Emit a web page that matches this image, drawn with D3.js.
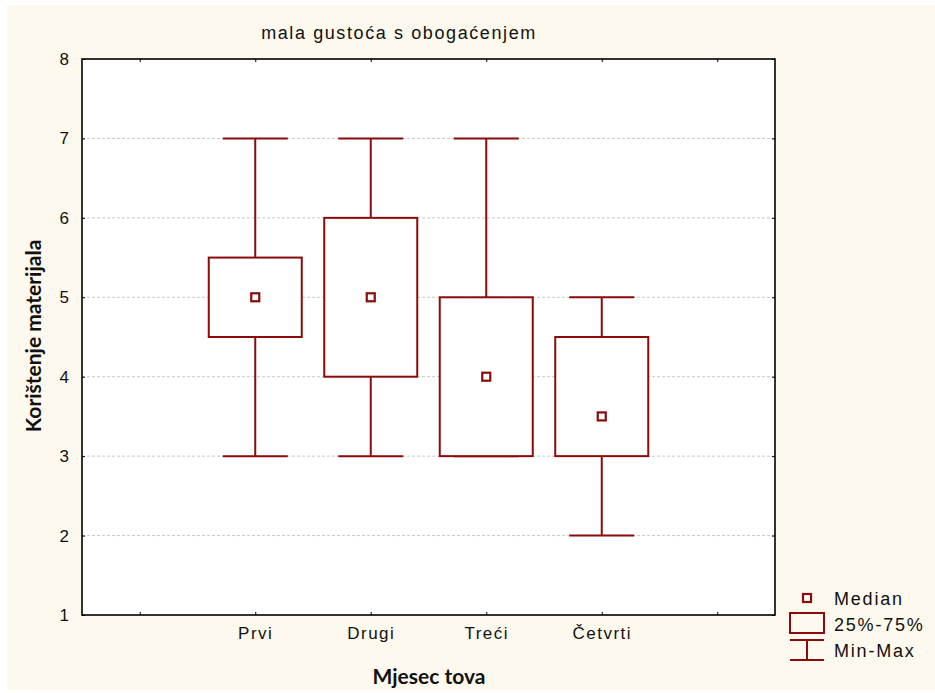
<!DOCTYPE html>
<html>
<head>
<meta charset="utf-8">
<script src="https://cdn.jsdelivr.net/npm/d3@7"></script>
<style>
  body { margin: 0; background: #fff; }
  svg { display: block; }
</style>
</head>
<body>
<div id="chart"></div>
<script>
// podaci
const categories = ["Prvi", "Drugi", "Treći", "Četvrti"];
const minVals = [3, 3, 3, 2];
const q1Vals = [4.5, 4, 3, 3];
const medianVals = [5, 5, 4, 3.5];
const q3Vals = [5.5, 6, 5, 4.5];
const maxVals = [7, 7, 7, 5];
const yTicks = [1, 2, 3, 4, 5, 6, 7, 8];

const W = 935, H = 693;
const margin = { top: 59, right: 160, bottom: 78, left: 82 };
const width = W - margin.left - margin.right;   // 693
const height = H - margin.top - margin.bottom;  // 556
const red = "#8b0a0a";

const svg = d3.select("#chart").append("svg")
  .attr("width", W).attr("height", H);

// pozadina
svg.append("rect")
  .attr("x", 7).attr("y", 5)
  .attr("width", W - 7).attr("height", H - 8)
  .attr("fill", "#fef9ee");

const g = svg.append("g")
  .attr("transform", `translate(${margin.left},${margin.top})`);

g.append("rect")
  .attr("width", width).attr("height", height)
  .attr("fill", "#fff");

// prazna mjesta lijevo i desno, kao u originalu
const slots = ["_a", ...categories, "_b"];
const x = d3.scalePoint().domain(slots).range([0, width]).padding(0.5);
const y = d3.scaleLinear().domain([1, 8]).range([height, 0]);

// mreža
g.selectAll(".grid")
  .data(yTicks.filter(t => t > 1 && t < 8))
  .enter().append("line")
  .attr("x1", 0).attr("x2", width)
  .attr("y1", d => y(d)).attr("y2", d => y(d))
  .attr("stroke", "#c8c8c8")
  .attr("stroke-dasharray", "3,2")
  .attr("stroke-width", 1);

// osi
const fontAx = "'Liberation Sans', Arial, sans-serif";

const yAxis = g.append("g")
  .call(d3.axisLeft(y).tickValues(yTicks).tickSize(-3).tickPadding(13).tickFormat(d3.format("d")));
yAxis.select(".domain").remove();
yAxis.selectAll("line").attr("stroke", "#000");
yAxis.selectAll("text").style("font-family", fontAx).style("font-size", "17px").attr("fill", "#111");

const yAxisR = g.append("g").attr("transform", `translate(${width},0)`)
  .call(d3.axisRight(y).tickValues(yTicks).tickSize(-3).tickFormat(""));
yAxisR.select(".domain").remove();

const xAxis = g.append("g").attr("transform", `translate(0,${height})`)
  .call(d3.axisBottom(x).tickSize(-3).tickPadding(12).tickFormat(d => d.startsWith("_") ? "" : d));
xAxis.select(".domain").remove();
xAxis.selectAll("text").style("font-family", fontAx).style("font-size", "17px")
  .style("letter-spacing", "1.5px").attr("fill", "#111");

const xAxisT = g.append("g")
  .call(d3.axisTop(x).tickSize(-3).tickFormat(""));
xAxisT.select(".domain").remove();

g.append("rect")
  .attr("width", width).attr("height", height)
  .attr("fill", "none").attr("stroke", "#000").attr("stroke-width", 1.6);

// kutije
const boxW = 93, capW = 65, mk = 8;
const data = categories.map((c, i) => ({
  c, min: minVals[i], q1: q1Vals[i], med: medianVals[i], q3: q3Vals[i], max: maxVals[i]
}));

const b = g.selectAll(".box").data(data).enter().append("g")
  .attr("transform", d => `translate(${x(d.c)},0)`);

b.append("line")
  .attr("y1", d => y(d.max)).attr("y2", d => y(d.q3))
  .attr("stroke", red).attr("stroke-width", 2);
b.append("line")
  .attr("y1", d => y(d.q1)).attr("y2", d => y(d.min))
  .attr("stroke", red).attr("stroke-width", 2);
b.append("line")
  .attr("x1", -capW / 2).attr("x2", capW / 2)
  .attr("y1", d => y(d.max)).attr("y2", d => y(d.max))
  .attr("stroke", red).attr("stroke-width", 2);
b.append("line")
  .attr("x1", -capW / 2).attr("x2", capW / 2)
  .attr("y1", d => y(d.min)).attr("y2", d => y(d.min))
  .attr("stroke", red).attr("stroke-width", 2);
b.append("rect")
  .attr("x", -boxW / 2).attr("width", boxW)
  .attr("y", d => y(d.q3)).attr("height", d => y(d.q1) - y(d.q3))
  .attr("fill", "#fff").attr("stroke", red).attr("stroke-width", 2);
b.append("rect")
  .attr("x", -mk / 2).attr("width", mk)
  .attr("y", d => y(d.med) - mk / 2).attr("height", mk)
  .attr("fill", "#fff").attr("stroke", red).attr("stroke-width", 2.2);

// naslovi
svg.append("text")
  .attr("x", 399).attr("y", 39)
  .attr("text-anchor", "middle")
  .style("font-family", fontAx).style("font-size", "18px")
  .style("letter-spacing", "1.6px")
  .attr("fill", "#111")
  .text("mala gustoća s obogaćenjem");

const fontBold = "Lato, 'Open Sans', sans-serif";
svg.append("text")
  .attr("transform", "rotate(-90)")
  .attr("x", -336).attr("y", 41)
  .attr("text-anchor", "middle")
  .style("font-family", fontBold).style("font-size", "21px").style("font-weight", "bold")
  .attr("fill", "#111")
  .text("Korištenje materijala");

svg.append("text")
  .attr("x", 429).attr("y", 684)
  .attr("text-anchor", "middle")
  .style("font-family", fontBold).style("font-size", "21px").style("font-weight", "bold")
  .attr("fill", "#111")
  .text("Mjesec tova");

// legenda
const lg = svg.append("g").attr("transform", "translate(807,0)");
lg.append("rect")
  .attr("x", -mk / 2).attr("y", 598 - mk / 2).attr("width", mk).attr("height", mk)
  .attr("fill", "#fff").attr("stroke", red).attr("stroke-width", 2.2);
lg.append("rect")
  .attr("x", -17).attr("y", 613).attr("width", 34).attr("height", 20)
  .attr("fill", "none").attr("stroke", red).attr("stroke-width", 2);
lg.append("line").attr("x1", -17).attr("x2", 17).attr("y1", 640).attr("y2", 640)
  .attr("stroke", red).attr("stroke-width", 2);
lg.append("line").attr("x1", -17).attr("x2", 17).attr("y1", 660).attr("y2", 660)
  .attr("stroke", red).attr("stroke-width", 2);
lg.append("line").attr("x1", 0).attr("x2", 0).attr("y1", 640).attr("y2", 660)
  .attr("stroke", red).attr("stroke-width", 2);

lg.selectAll(".lt")
  .data(["Median", "25%-75%", "Min-Max"])
  .enter().append("text")
  .attr("x", 27).attr("y", (d, i) => 605 + i * 26)
  .style("font-family", fontAx).style("font-size", "18px")
  .style("letter-spacing", "1.8px")
  .attr("fill", "#111")
  .text(d => d);
</script>
</body>
</html>
